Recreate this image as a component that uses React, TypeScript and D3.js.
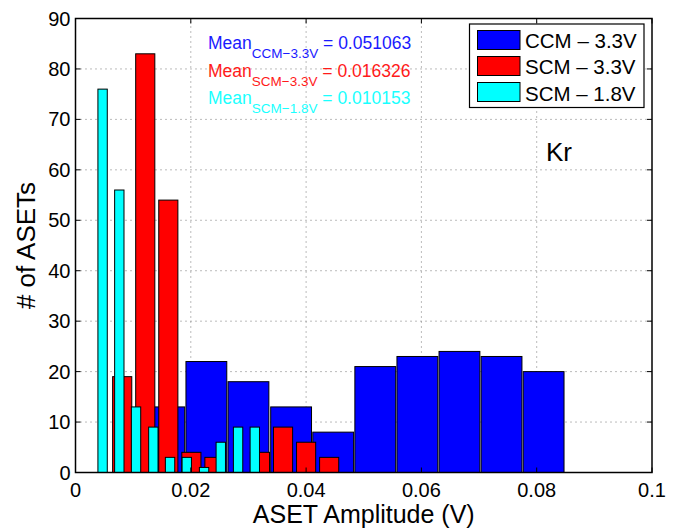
import React from 'react';
import * as d3 from 'd3';

// bin centres (V) and counts for each histogram
const ccmBins = [0.0154, 0.0227, 0.03, 0.0374, 0.0447, 0.052, 0.0593, 0.0666, 0.0739, 0.0812];
const ccmCounts = [13, 22, 18, 13, 8, 21, 23, 24, 23, 20];
const scm33Bins = [0.0081, 0.0121, 0.0161, 0.0201, 0.0241, 0.028, 0.032, 0.036, 0.04, 0.044];
const scm33Counts = [19, 83, 54, 4, 3, 0, 4, 9, 6, 3];
const scm18Bins = [0.0047, 0.0076, 0.0105, 0.0135, 0.0164, 0.0193, 0.0223, 0.0252, 0.0282, 0.0311];
const scm18Counts = [76, 56, 13, 9, 3, 3, 1, 6, 9, 9];

const seriesNames = ['CCM \u2013 3.3V', 'SCM \u2013 3.3V', 'SCM \u2013 1.8V'];
const meanLabels = ['CCM\u22123.3V', 'SCM\u22123.3V', 'SCM\u22121.8V'];
const meanValues = ['0.051063', '0.016326', '0.010153'];
const xTicks = [0, 0.02, 0.04, 0.06, 0.08, 0.1];
const xTickLabels = ['0', '0.02', '0.04', '0.06', '0.08', '0.1'];
const yTicks = [0, 10, 20, 30, 40, 50, 60, 70, 80, 90];

const W = 679;
const H = 529;
const margin = { top: 18.5, right: 27, bottom: 56.5, left: 75.5 };
const font = '"Liberation Sans", Arial, Helvetica, sans-serif';
const colors = ['#0000ff', '#ff0000', '#00ffff'];
const textColors = ['#1a1aff', '#ff1a1a', '#1affff'];

const App = () => {
  const x = d3.scaleLinear().domain([0, 0.1]).range([margin.left, W - margin.right]);
  const y = d3.scaleLinear().domain([0, 90]).range([H - margin.bottom, margin.top]);
  const x0 = x.range()[0];
  const x1 = x.range()[1];
  const y0 = y.range()[0];
  const y1 = y.range()[1];

  // blue drawn first, cyan last (on top)
  const series = [
    { bins: ccmBins, counts: ccmCounts, frac: 0.97 },
    { bins: scm33Bins, counts: scm33Counts, frac: 0.83 },
    { bins: scm18Bins, counts: scm18Counts, frac: 0.56 },
  ];

  return (
    <div style={{ position: 'absolute', left: 0, top: 0 }}>
      <svg width={W} height={H} style={{ display: 'block', background: '#fff' }} fontFamily={font}>
        {/* grid */}
        <g stroke="#777" strokeWidth={1} strokeDasharray="1,4">
          {xTicks.slice(1, -1).map((t) => (
            <line key={'gx' + t} x1={x(t)} x2={x(t)} y1={y0} y2={y1} />
          ))}
          {yTicks.slice(1, -1).map((t) => (
            <line key={'gy' + t} x1={x0} x2={x1} y1={y(t)} y2={y(t)} />
          ))}
        </g>

        {/* bars */}
        {series.map((s, si) => {
          const step = s.bins[1] - s.bins[0];
          const bw = x(step * s.frac) - x(0);
          return (
            <g key={'s' + si} fill={colors[si]} stroke="#000" strokeWidth={1}>
              {s.bins.map((b, i) =>
                s.counts[i] > 0 ? (
                  <rect
                    key={i}
                    x={x(b) - bw / 2}
                    y={y(s.counts[i])}
                    width={bw}
                    height={y0 - y(s.counts[i])}
                  />
                ) : null
              )}
            </g>
          );
        })}

        {/* axes box + ticks */}
        <rect x={x0} y={y1} width={x1 - x0} height={y0 - y1} fill="none" stroke="#000" strokeWidth={1.5} />
        <g stroke="#000" strokeWidth={1}>
          {xTicks.map((t) => (
            <g key={'tx' + t}>
              <line x1={x(t)} x2={x(t)} y1={y0} y2={y0 - 5} />
              <line x1={x(t)} x2={x(t)} y1={y1} y2={y1 + 5} />
            </g>
          ))}
          {yTicks.map((t) => (
            <g key={'ty' + t}>
              <line x1={x0} x2={x0 + 5} y1={y(t)} y2={y(t)} />
              <line x1={x1} x2={x1 - 5} y1={y(t)} y2={y(t)} />
            </g>
          ))}
        </g>

        {/* tick labels */}
        <g fontSize={20} fill="#000">
          {xTicks.map((t, i) => (
            <text key={'lx' + t} x={x(t)} y={y0 + 24} textAnchor="middle">
              {xTickLabels[i]}
            </text>
          ))}
          {yTicks.map((t) => (
            <text key={'ly' + t} x={x0 - 5} y={y(t) + 7} textAnchor="end">
              {t}
            </text>
          ))}
        </g>

        {/* axis titles */}
        <text x={(x0 + x1) / 2} y={523} textAnchor="middle" fontSize={25}>
          ASET Amplitude (V)
        </text>
        <text transform={`translate(35, ${(y0 + y1) / 2}) rotate(-90)`} textAnchor="middle" fontSize={26}>
          # of ASETs
        </text>

        {/* mean annotations */}
        {meanLabels.map((lab, i) => (
          <text key={'m' + i} x={208} y={49 + i * 27.5} fontSize={17.5} fill={textColors[i]}>
            Mean
            <tspan fontSize={13.5} dy={9}>{lab}</tspan>
            <tspan dy={-9}>{' = ' + meanValues[i]}</tspan>
          </text>
        ))}

        <text x={546} y={161} fontSize={26}>Kr</text>

        {/* legend */}
        <g>
          <rect x={469.5} y={24} width={174.5} height={83.5} fill="#fff" stroke="#000" strokeWidth={1.2} />
          {seriesNames.map((n, i) => (
            <g key={'lg' + i}>
              <rect x={477.5} y={30.5 + i * 26} width={42.5} height={19} fill={colors[i]} stroke="#000" strokeWidth={1} />
              <text x={525} y={47.5 + i * 26.6} fontSize={20.5}>
                {n}
              </text>
            </g>
          ))}
        </g>
      </svg>
    </div>
  );
};

export default App;
